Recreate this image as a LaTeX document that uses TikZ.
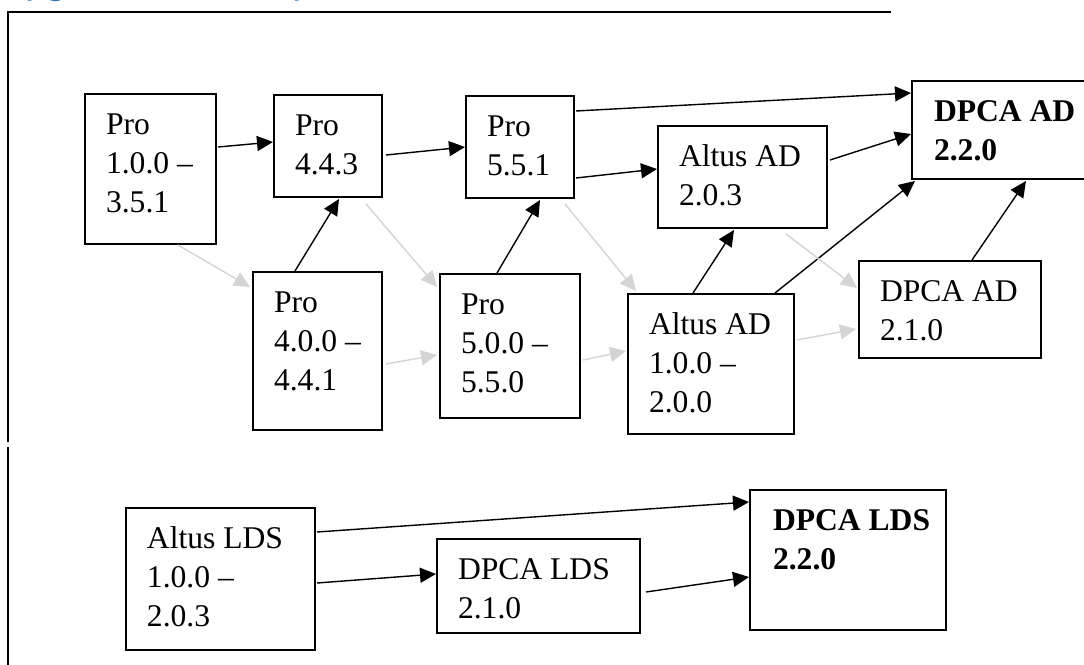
\documentclass[tikz,border=0pt]{standalone}
\usepackage{fontspec}
\setmainfont{Liberation Serif}
\newfontfamily\headfont{Carlito}
\usetikzlibrary{arrows.meta,calc}
\definecolor{headblue}{RGB}{46,116,181}
\definecolor{lightg}{RGB}{212,212,212}
\newcommand{\boxtext}[3]{\begin{minipage}[t][#2][t]{#1}\raggedright\leftskip=10.5pt\relax\rule{0pt}{20pt}#3\end{minipage}}
\begin{document}
\begin{tikzpicture}[x=0.5pt,y=-0.5pt,
  vbox/.style={draw, line width=1pt, inner sep=0pt, anchor=north west, font=\fontsize{15.8}{19.7}\selectfont},
  blk/.style={-{Triangle[length=8pt,width=7.5pt]}, line width=0.7pt},
  gry/.style={-{Triangle[length=8pt,width=7.5pt]}, draw=lightg, line width=0.7pt},
  frame/.style={line width=1pt}]
\useasboundingbox (0,0) rectangle (1084,665);
% heading (clipped at top of page)
\node[anchor=base west, text=headblue, font=\headfont\fontsize{20.8}{25}\selectfont, inner sep=0pt] (title) at (-2,-6) {Upgrade Path Map};
% frame lines
\coordinate (ftr) at (891,12);
\coordinate (ftl) at (8,12);
\coordinate (fl1) at (8,442);
\coordinate (fl2) at (8,447);
\coordinate (flb) at (8,667);
\draw[frame] (ftr) -- (ftl) -- (fl1);
\draw[frame] (fl2) -- (flb);
% boxes
\node[vbox] (A) at (84,93)   {\boxtext{65.5pt}{75pt}{Pro\\1.0.0 –\\3.5.1}};
\node[vbox] (B) at (273,94)  {\boxtext{54pt}{51pt}{Pro\\4.4.3}};
\node[vbox] (C) at (465,95)  {\boxtext{54pt}{51pt}{Pro\\5.5.1}};
\node[vbox] (D) at (252,271) {\boxtext{64.5pt}{79pt}{Pro\\4.0.0 –\\4.4.1}};
\node[vbox] (E) at (439,273) {\boxtext{70pt}{72pt}{Pro\\5.0.0 –\\5.5.0}};
\node[vbox] (F) at (657,125) {\boxtext{84.5pt}{51pt}{Altus AD\\2.0.3}};
\node[vbox] (G) at (627,293) {\boxtext{83pt}{70pt}{Altus AD\\1.0.0 –\\2.0.0}};
\node[vbox] (H) at (858,260) {\boxtext{91pt}{48.5pt}{DPCA AD\\2.1.0}};
\node[vbox] (I) at (911,80)  {\boxtext{94.5pt}{49pt}{\leftskip=11pt\relax\textbf{DPCA AD}\\\textbf{2.2.0}}};
\node[vbox] (J) at (125,507) {\boxtext{94.5pt}{71pt}{Altus LDS\\1.0.0 –\\2.0.3}};
\node[vbox] (K) at (436,538) {\boxtext{101.5pt}{47pt}{DPCA LDS\\2.1.0}};
\node[vbox] (L) at (749,489) {\boxtext{98pt}{70pt}{\leftskip=11.5pt\relax\textbf{DPCA LDS}\\\textbf{2.2.0}}};
% black connectors
\draw[blk] ($(A.north east)+(1,54)$) -- ($(B.north west)+(0,48)$);
\draw[blk] ($(B.north east)+(3,61)$) -- ($(C.north west)+(0,52)$);
\draw[blk] ($(C.north east)+(1,16)$) -- ($(I.north west)+(0,13)$);
\draw[blk] ($(C.north east)+(1,83)$) -- ($(F.north west)+(0,44)$);
\draw[blk] ($(F.north east)+(2,35)$) -- ($(I.north west)+(0,54)$);
\draw[blk] ($(D.north west)+(43,0)$) -- ($(B.south west)+(66,1)$);
\draw[blk] ($(E.north west)+(58,0)$) -- ($(C.south west)+(75,1)$);
\draw[blk] ($(G.north west)+(66,0)$) -- ($(F.south west)+(77,1)$);
\draw[blk] ($(G.north west)+(148,0)$) -- ($(I.south west)+(4,1)$);
\draw[blk] ($(H.north west)+(114,0)$) -- ($(I.south west)+(115,1)$);
\draw[blk] ($(J.north east)+(1,25)$) -- ($(L.north west)+(0,13)$);
\draw[blk] ($(J.north east)+(1,76)$) -- ($(K.north west)+(0,36)$);
\draw[blk] ($(K.north east)+(5,54)$) -- ($(L.north west)+(0,88)$);
% grey connectors
\draw[gry] ($(A.south west)+(94,0)$) -- ($(D.north west)+(-2,16)$);
\draw[gry] ($(B.south east)+(-17,6)$) -- ($(E.north west)+(-2,14)$);
\draw[gry] ($(D.north east)+(3,93)$) -- ($(E.north west)+(-2,82)$);
\draw[gry] ($(C.south east)+(-10,5)$) -- ($(G.north west)+(9,-2)$);
\draw[gry] ($(E.north east)+(2,87)$) -- ($(G.north west)+(-1,58)$);
\draw[gry] ($(F.south east)+(-42,5)$) -- ($(H.north west)+(-1,28)$);
\draw[gry] ($(G.north east)+(2,47)$) -- ($(H.north west)+(-2,69)$);
\end{tikzpicture}
\end{document}
